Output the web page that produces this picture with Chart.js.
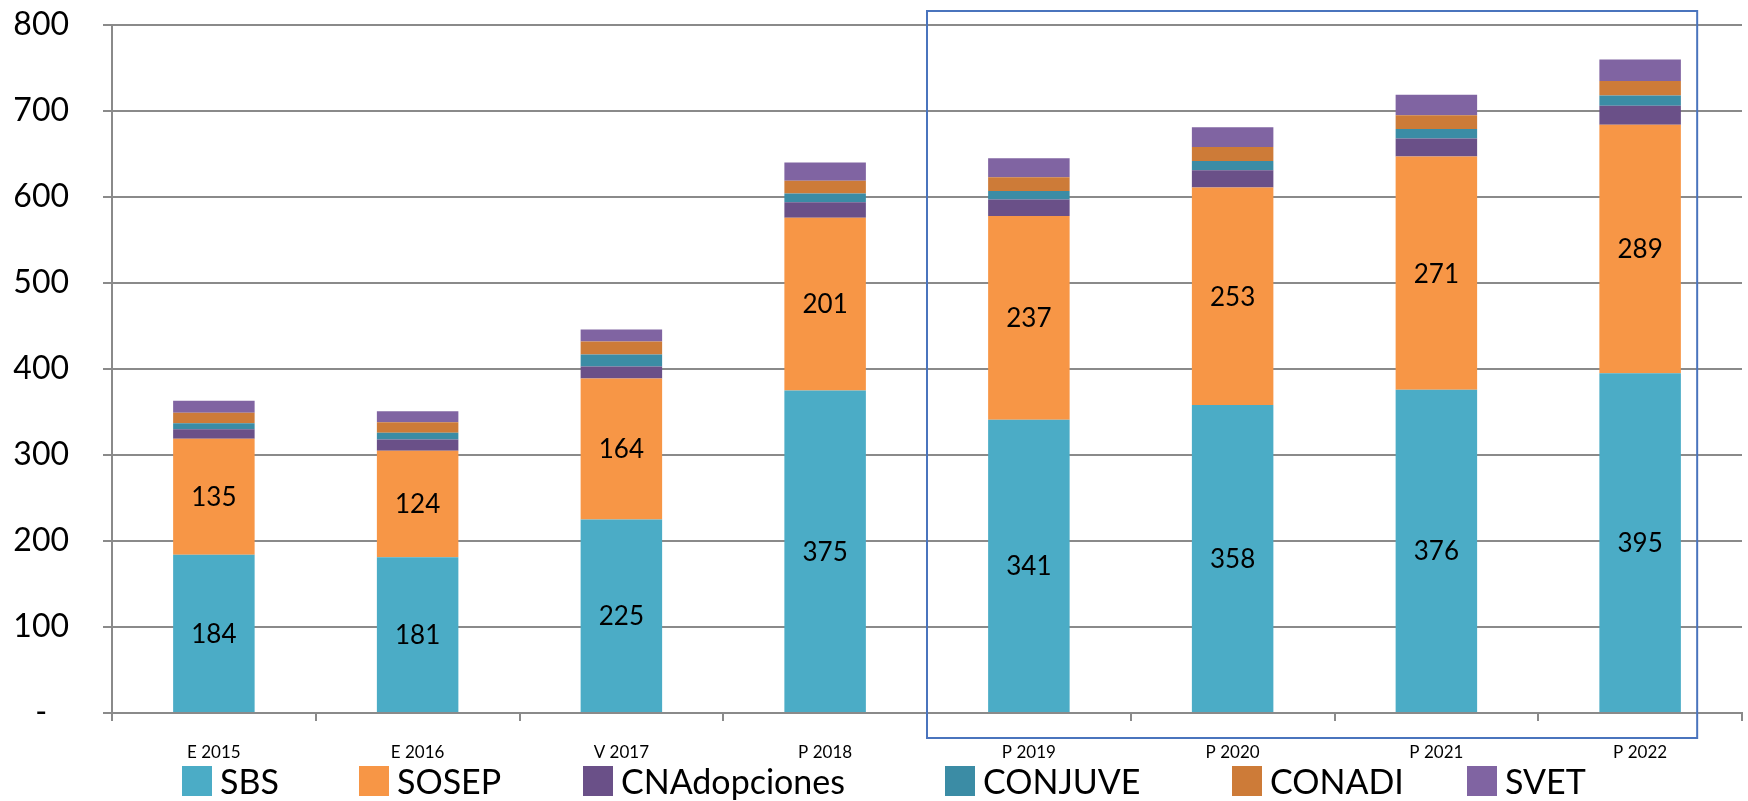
<!DOCTYPE html>
<html>
<head>
<meta charset="utf-8">
<script src="https://cdn.jsdelivr.net/npm/chart.js@4"></script>
<style>
  html, body { margin: 0; padding: 0; background: #fff; }
  #wrap { position: relative; width: 1748px; height: 801px; }
  #legend { position: absolute; left: 0; top: 761px; width: 1748px; height: 40px;
            font-family: Lato, 'Open Sans', sans-serif; font-size: 34px; color: #000; line-height: 40px; }
  #legend .item { position: absolute; top: 0; display: flex; align-items: center; white-space: nowrap; height: 40px; }
  #legend .box { display: inline-block; width: 30px; height: 30px; margin-right: 8px; }
</style>
</head>
<body>
<div id="wrap">
  <canvas id="c" width="1748" height="801"></canvas>
  <div id="legend"></div>
</div>
<script>
const categories = ['E 2015', 'E 2016', 'V 2017', 'P 2018', 'P 2019', 'P 2020', 'P 2021', 'P 2022'];
const sbs          = [184, 181, 225, 375, 341, 358, 376, 395];
const sosep        = [135, 124, 164, 201, 237, 253, 271, 289];
const cnadopciones = [11, 13, 14, 18, 19, 20, 21, 22];
const conjuve      = [7, 8, 14, 10, 10, 11, 11, 12];
const conadi       = [12, 12, 15, 15, 16, 16, 16, 17];
const svet         = [14, 13, 14, 21, 22, 23, 24, 25];
const seriesNames  = ['SBS', 'SOSEP', 'CNAdopciones', 'CONJUVE', 'CONADI', 'SVET'];
const seriesColors = ['#4bacc6', '#f79646', '#6a5088', '#3b8ca5', '#cd7b38', '#8064a2'];
const yMin = 0, yMax = 800, yStep = 100;
const labeledSeries = [0, 1];

// legend layout (style only): left edge of each legend item, in px
const legendLefts = [182, 359, 583, 945, 1232, 1467];

const seriesData = [sbs, sosep, cnadopciones, conjuve, conadi, svet];
const FONT = "Lato, 'Open Sans', sans-serif";
const GRID = '#8a8a8a';

const valueLabels = {
  id: 'valueLabels',
  afterDatasetsDraw(chart) {
    const ctx = chart.ctx;
    ctx.save();
    ctx.font = '26px ' + FONT;
    ctx.fillStyle = '#000';
    ctx.textAlign = 'center';
    ctx.textBaseline = 'middle';
    labeledSeries.forEach(di => {
      const meta = chart.getDatasetMeta(di);
      meta.data.forEach((bar, i) => {
        const v = chart.data.datasets[di].data[i];
        ctx.fillText(String(v), bar.x, (bar.y + bar.base) / 2 + 1);
      });
    });
    ctx.restore();
  }
};

const highlightBox = {
  id: 'highlightBox',
  afterDraw(chart) {
    const x = chart.scales.x, ca = chart.chartArea, ctx = chart.ctx;
    const step = x.getPixelForValue(7) - x.getPixelForValue(6);
    const x1 = (x.getPixelForValue(3) + x.getPixelForValue(4)) / 2;
    const x2 = x.getPixelForValue(7) + 0.28 * step;
    const y1 = ca.top - 14, y2 = ca.bottom + 25;
    ctx.save();
    ctx.strokeStyle = '#4a74bd';
    ctx.lineWidth = 2;
    ctx.strokeRect(x1, y1, x2 - x1, y2 - y1);
    ctx.restore();
  }
};

const chart = new Chart(document.getElementById('c'), {
  type: 'bar',
  data: {
    labels: categories,
    datasets: seriesNames.map((n, i) => ({
      label: n,
      data: seriesData[i],
      backgroundColor: seriesColors[i],
      borderWidth: 0,
      barPercentage: 0.4,
      categoryPercentage: 1.0
    }))
  },
  options: {
    responsive: false,
    animation: false,
    devicePixelRatio: 1,
    layout: { padding: { top: 25, right: 6, left: 0, bottom: 0 } },
    plugins: { legend: { display: false }, tooltip: { enabled: false } },
    scales: {
      x: {
        stacked: true,
        grid: { offset: true, drawOnChartArea: false, drawTicks: true, tickLength: 8, color: GRID, lineWidth: 2 },
        border: { display: true, color: GRID, width: 2 },
        ticks: { font: { size: 17, family: FONT }, color: '#000', padding: 21, maxRotation: 0 },
        afterFit(s) { s.height = 88; }
      },
      y: {
        stacked: true,
        min: yMin, max: yMax,
        grid: { color: GRID, lineWidth: 2, tickLength: 9 },
        border: { display: true, color: GRID, width: 2 },
        ticks: {
          stepSize: yStep,
          crossAlign: 'center',
          font: { size: 32, family: FONT }, color: '#000', padding: 34,
          callback: v => v === 0 ? '-' : v
        },
        afterFit(s) { s.width = 112; s.paddingTop = 0; s.paddingBottom = 0; }
      }
    }
  },
  plugins: [valueLabels, highlightBox]
});

const legendEl = document.getElementById('legend');
chart.data.datasets.forEach((ds, i) => {
  const item = document.createElement('div');
  item.className = 'item';
  item.style.left = legendLefts[i] + 'px';
  const box = document.createElement('span');
  box.className = 'box';
  box.style.background = ds.backgroundColor;
  const txt = document.createElement('span');
  txt.textContent = ds.label;
  item.appendChild(box);
  item.appendChild(txt);
  legendEl.appendChild(item);
});
</script>
</body>
</html>
